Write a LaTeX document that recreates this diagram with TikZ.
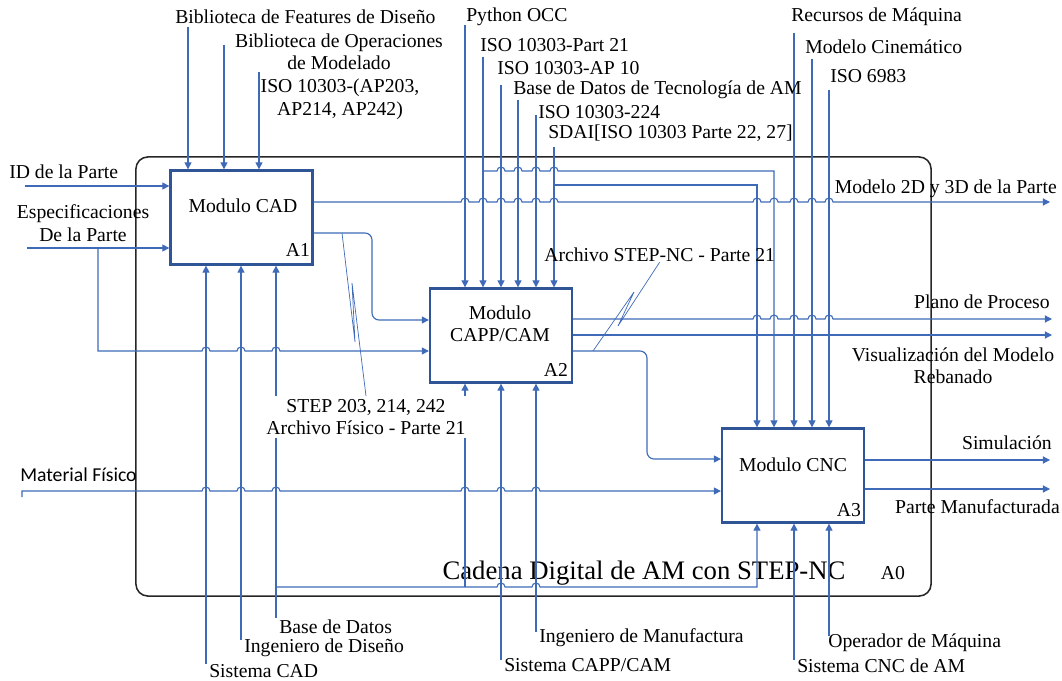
\documentclass[tikz,border=0pt]{standalone}
\usepackage{fontspec}
\setmainfont{Liberation Serif}
\newfontfamily\calfont{Carlito}
\usetikzlibrary{arrows.meta}
\definecolor{boxblue}{RGB}{47,85,151}
\definecolor{lineblue}{RGB}{62,106,184}
\begin{document}
\begin{tikzpicture}[x=0.025cm,y=-0.025cm,>={Triangle[length=5pt,width=5pt]},
  idef/.style={draw=boxblue,line width=1.6pt,minimum width=3.55cm,minimum height=2.35cm},
  flow/.style={draw=lineblue,line width=0.8pt},
  cue/.style={draw=lineblue,line width=0.5pt},
  lbl/.style={font=\fontsize{14}{16}\selectfont,inner sep=0pt},
  lbw/.style={lbl,anchor=west},
  lbe/.style={lbl,anchor=east}]
\useasboundingbox (0,0) rectangle (1062,681);
\node[draw=black!85,line width=1.1pt,rounded corners=0.3cm,minimum width=19.875cm,minimum height=10.975cm] (a0) at (533.5,376.5) {};
\node[idef] (cad) at (241.5,217.5) {};
\node[idef] (capp) at (501,335.5) {};
\node[idef] (cnc) at (793,475.5) {};
\node[lbl] (cadt) at (243,206) {Modulo CAD};
\node[lbl,align=center] (cappt) at (500,324) {Modulo\\CAPP/CAM};
\node[lbl] (cnct) at (793,465) {Modulo CNC};
\node[lbl] (cadn) at (298,250) {A1};
\node[lbl] (cappn) at (556,370) {A2};
\node[lbl] (cncn) at (849,510) {A3};
\node[lbl] (a0n) at (893,573) {A0};
\node[lbl,font=\fontsize{19}{22}\selectfont] (a0t) at (644,573) {Cadena Digital de AM con STEP-NC};

\coordinate (cF) at (188,27);
\coordinate (cO) at (224,45);
\coordinate (cI) at (259,72);
\coordinate (cP) at (465,25);
\coordinate (c21) at (483,57);
\coordinate (c10) at (501,85);
\coordinate (cB) at (518,100);
\coordinate (c24) at (536,115);
\coordinate (cS) at (554,147);
\coordinate (cR) at (794,33);
\coordinate (cM) at (812,59);
\coordinate (c69) at (829,90);
\coordinate (mC) at (206,664);
\coordinate (mI) at (241,640);
\coordinate (mB) at (276,618);
\coordinate (mS2) at (501,660);
\coordinate (mI2) at (536,632);
\coordinate (mS3) at (794,660);
\coordinate (mO3) at (829,636);
\coordinate (j21) at (774,171);
\coordinate (jS) at (757,185);
\coordinate (jB) at (276,587);
\coordinate (kB) at (757,587);
\coordinate (jX) at (465,587);
\coordinate (inID) at (25,186);
\coordinate (inEs) at (27,248);
\coordinate (jE) at (98,248);
\coordinate (kE) at (98,351);
\coordinate (jC) at (372,233);
\coordinate (kC) at (372,320);
\coordinate (matt) at (22,497);
\coordinate (inMat) at (22,491);
\coordinate (jA) at (647,351);
\coordinate (kA) at (647,459);
\coordinate (oMod) at (1050,202);
\coordinate (oPl) at (1052,319);
\coordinate (oVi) at (1052,335);
\coordinate (oSi) at (1050,460);
\coordinate (oPa) at (1050,489);
\coordinate (sq1) at (342,233);
\coordinate (sq2) at (593,351);

\foreach \c in {cF,cO,cI} \draw[flow,->] (\c) -- (\c |- cad.north);
\foreach \c in {cP,c21,c10,cB,c24,cS} \draw[flow,->] (\c) -- (\c |- capp.north);
\foreach \c in {cR,cM,c69} \draw[flow,->] (\c) -- (\c |- cnc.north);
\draw[flow,->] (c21 |- j21) \foreach \h in {501,518,536,554} {-- (\h-4,171) arc[start angle=180,end angle=0,radius=0.1cm]} -- (j21) -- (j21 |- cnc.north);
\draw[flow,->] (cS |- jS) -- (jS) -- (jS |- cnc.north);
\foreach \m in {mC,mI,mB} \draw[flow,->] (\m) -- (\m |- cad.south);
\foreach \m in {mS2,mI2} \draw[flow,->] (\m) -- (\m |- capp.south);
\foreach \m in {mS3,mO3} \draw[flow,->] (\m) -- (\m |- cnc.south);
\draw[flow,->] (jB) \foreach \h in {501,536} {-- (\h-4,587) arc[start angle=180,end angle=0,radius=0.1cm]} -- (kB) -- (kB |- cnc.south);
\draw[flow,->] (jX) -- (jX |- capp.south);
\draw[flow,->] (inID) -- (inID -| cad.west);
\draw[flow,->] (inEs) -- (inEs -| cad.west);
\draw[flow,->] (jE) -- (kE) \foreach \h in {206,241,276} {-- (\h-4,351) arc[start angle=180,end angle=0,radius=0.1cm]} -- (kE -| capp.west);
\draw[flow,->,rounded corners=5pt] (jC -| cad.east) -- (jC) -- (kC) -- (kC -| capp.west);
\draw[flow,->] (matt) -- (inMat) \foreach \h in {206,241,276,465,501,536} {-- (\h-4,491) arc[start angle=180,end angle=0,radius=0.1cm]} -- (inMat -| cnc.west);
\draw[flow,->,rounded corners=5pt] (jA -| capp.east) -- (jA) -- (kA) -- (kA -| cnc.west);
\draw[flow,->] (oMod -| cad.east) \foreach \h in {465,483,501,518,536,554,757,774,794,812,829} {-- (\h-4,202) arc[start angle=180,end angle=0,radius=0.1cm]} -- (oMod);
\draw[flow,->] (oPl -| capp.east) \foreach \h in {757,774,794,812,829} {-- (\h-4,319) arc[start angle=180,end angle=0,radius=0.1cm]} -- (oPl);
\draw[flow,->] (oVi -| capp.east) -- (oVi);
\draw[flow,->] (oSi -| cnc.east) -- (oSi);
\draw[flow,->] (oPa -| cnc.east) -- (oPa);

\node[lbw] (lF) at (175,17) {Biblioteca de Features de Diseño};
\node[lbl,align=center] (lO) at (339,52) {Biblioteca de Operaciones\\de Modelado};
\node[lbl,align=center] (lI) at (340,99.5) {ISO 10303-(AP203,\\AP214, AP242)};
\node[lbw] (lP) at (466,17) {Python OCC};
\node[lbw] (l21) at (480,45) {ISO 10303-Part 21};
\node[lbw] (l10) at (497,68) {ISO 10303-AP 10};
\node[lbw] (lB) at (513,90) {Base de Datos de Tecnología de AM};
\node[lbw] (l24) at (538,112) {ISO 10303-224};
\node[lbw] (lS) at (548,133) {SDAI[ISO 10303 Parte 22, 27]};
\node[lbw] (lR) at (791,17) {Recursos de Máquina};
\node[lbw] (lM) at (805,47) {Modelo Cinemático};
\node[lbw] (l69) at (830,76) {ISO 6983};
\node[lbw] (lID) at (9,172) {ID de la Parte};
\node[lbl,align=center] (lEs) at (83,223) {Especificaciones\\De la Parte};
\node[lbw,font=\calfont\fontsize{14}{16}\selectfont] (lMat) at (20,475) {Material Físico};
\node[lbe] (lMod) at (1057,189) {Modelo 2D y 3D de la Parte};
\node[lbe] (lPl) at (1050,302) {Plano de Proceso};
\node[lbl,align=center] (lVi) at (953,366) {Visualización del Modelo\\Rebanado};
\node[lbe] (lSi) at (1052,443) {Simulación};
\node[lbe] (lPa) at (1060,507) {Parte Manufacturada};
\node[lbw] (lmB) at (279,627) {Base de Datos};
\node[lbw] (lmI) at (244,648) {Ingeniero de Diseño};
\node[lbw] (lmC) at (209,671) {Sistema CAD};
\node[lbw] (lmI2) at (539,638) {Ingeniero de Manufactura};
\node[lbw] (lmS2) at (504,665) {Sistema CAPP/CAM};
\node[lbw] (lmO3) at (828,643) {Operador de Máquina};
\node[lbw] (lmS3) at (797,666) {Sistema CNC de AM};
\node[lbl,align=center,fill=white,inner sep=2pt] (lstp) at (366,417) {STEP 203, 214, 242\\Archivo Físico - Parte 21};
\node[lbw] (lnc) at (544,255) {Archivo STEP-NC - Parte 21};
\draw[cue] (sq1) -- (355,342) -- (352,283) -- (lstp.north);
\draw[cue] (lnc.south) -- (618,326) -- (634,292) -- (sq2);
\end{tikzpicture}
\end{document}
